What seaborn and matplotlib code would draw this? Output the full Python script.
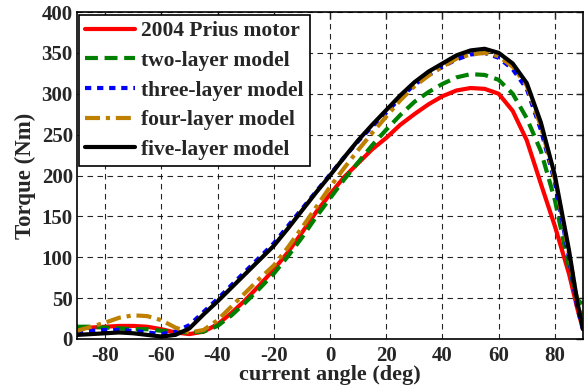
import matplotlib
matplotlib.use("Agg")
import matplotlib.pyplot as plt
import seaborn as sns
import numpy as np

# ---- data ----
angle = [-90, -85, -80, -75, -70, -65, -60, -55, -50, -45, -40, -35, -30, -25, -20,
         -15, -10, -5, 0, 5, 10, 15, 20, 25, 30, 35, 40, 45, 50, 55, 60, 65, 70,
         75, 80, 85, 88, 90]

prius = [13, 14, 15, 16, 16, 15, 12, 8, 6, 9, 18, 32, 48, 66, 85,
         106, 130, 155, 177, 198, 215, 232, 246, 262, 275, 287, 297, 304, 307, 306, 300, 279, 243,
         190, 138, 80, 37, 12]
two_layer = [15, 15, 14, 13, 12, 12, 10, 9, 8, 9, 16, 29, 45, 62, 80,
             101, 124, 149, 172, 195, 216, 237, 256, 274, 290, 302, 312, 320, 324, 323, 317, 300, 270,
             230, 170, 88, 48, 42]
three_layer = [8, 10, 11, 11, 10, 8, 6, 9, 17, 33, 49, 66, 83, 100, 117,
               138, 159, 180, 201, 222, 242, 260, 277, 295, 311, 323, 333, 342, 348, 350, 344, 330, 306,
               256, 192, 100, 38, 12]
four_layer = [10, 15, 20, 26, 29, 28, 23, 14, 8, 11, 23, 40, 57, 74, 90,
              112, 136, 161, 186, 209, 231, 252, 272, 292, 309, 322, 333, 343, 348, 350, 346, 333, 310,
              260, 196, 105, 45, 25]
five_layer = [5, 6, 7, 8, 7, 5, 3, 5, 13, 30, 46, 63, 80, 97, 114,
              135, 157, 179, 200, 222, 243, 262, 280, 298, 314, 327, 337, 347, 353, 355, 350, 337, 313,
              265, 200, 109, 45, 12]

labels = ["2004 Prius motor", "two-layer model", "three-layer model",
          "four-layer model", "five-layer model"]
xticks = [-80, -60, -40, -20, 0, 20, 40, 60, 80]
yticks = [0, 50, 100, 150, 200, 250, 300, 350, 400]

# ---- style ----
sns.set_style("white")
plt.rcParams["font.family"] = ["Liberation Serif", "DejaVu Serif"]
plt.rcParams["font.weight"] = "bold"
plt.rcParams["axes.unicode_minus"] = False

fig = plt.figure(figsize=(5.84, 3.85), dpi=100)
ax = fig.add_axes([77 / 584, 46 / 385, (583 - 77) / 584, (339 - 12) / 385])

series = [prius, two_layer, three_layer, four_layer, five_layer]
colors = ["#ff0000", "#008000", "#0000ff", "#bf8000", "#000000"]
styles = ["-", (0, (3.1, 1.6)), (0, (1.5, 1.4)), (0, (3.6, 1.4, 1.0, 1.4)), "-"]

for vals, lab, col, ls in zip(series, labels, colors, styles):
    sns.lineplot(x=angle, y=vals, ax=ax, color=col, linewidth=3.0,
                 linestyle=ls, label=lab)

ax.set_xlim(-90, 90)
ax.set_ylim(0, 400)
ax.set_xticks(xticks)
ax.set_yticks(yticks)
ax.grid(True, color="black", linestyle=(0, (5, 4)), linewidth=0.8, alpha=0.85)
ax.tick_params(direction="in", length=5, width=1, top=True, right=True,
               labelsize=15, pad=3)
ax.tick_params(axis="x", pad=5)
for sp in ax.spines.values():
    sp.set_color("black")
    sp.set_linewidth(1.2)

ax.set_xlabel("current angle (deg)", fontsize=16, fontweight="bold", labelpad=-1)
ax.set_ylabel("Torque (Nm)", fontsize=16.5, fontweight="bold", labelpad=4)

leg = ax.legend(loc="upper left", bbox_to_anchor=(0.004, 0.991), borderaxespad=0,
                prop={"family": "Liberation Serif", "weight": "bold", "size": 15.5},
                handlelength=2.3, handletextpad=0.3, labelspacing=0.44,
                borderpad=0.3, fancybox=False, framealpha=1, edgecolor="black")
leg.get_frame().set_linewidth(1.2)

fig.savefig("out.png", dpi=100)
